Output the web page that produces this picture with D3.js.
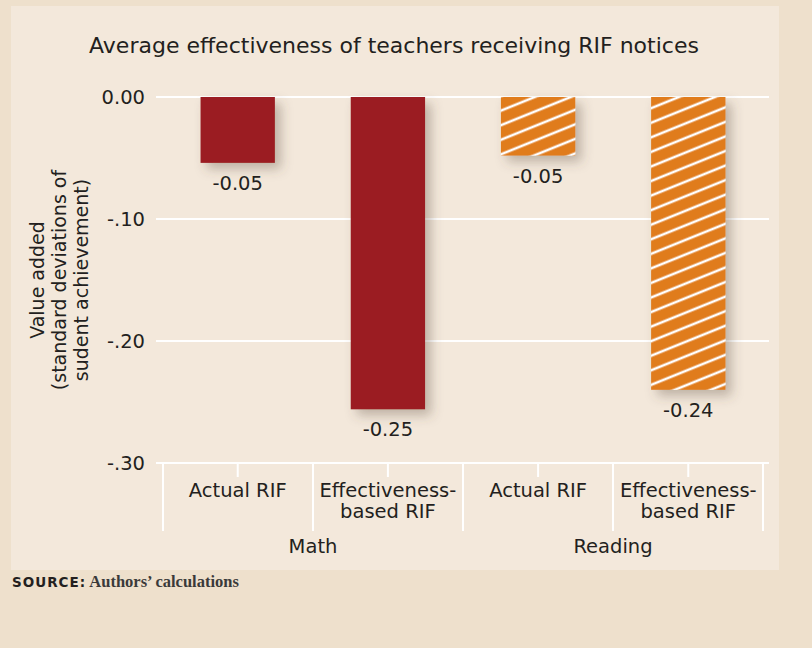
<!DOCTYPE html>
<html>
<head>
<meta charset="utf-8">
<script src="https://cdn.jsdelivr.net/npm/d3@7"></script>
<style>
  body { margin: 0; background: #eee0cc; }
  text { font-family: "DejaVu Sans", sans-serif; fill: #231f20; }
</style>
</head>
<body>
<script>
// chart data
var subjects = ["Math", "Reading"];
var rifTypes = ["Actual RIF", "Effectiveness-based RIF"];
var mathValues = [-0.054, -0.256];
var readingValues = [-0.048, -0.240];
var valueLabels = [["-0.05", "-0.25"], ["-0.05", "-0.24"]];
var yTicks = [0, -0.1, -0.2, -0.3];
var yTickLabels = ["0.00", "-.10", "-.20", "-.30"];

var bars = [];
subjects.forEach(function(s, i) {
  var vals = i === 0 ? mathValues : readingValues;
  rifTypes.forEach(function(r, j) {
    bars.push({ subject: s, type: r, value: vals[j], label: valueLabels[i][j], key: s + "|" + r });
  });
});

var width = 812, height = 648;
var svg = d3.select("body").append("svg")
    .attr("width", width)
    .attr("height", height);

var defs = svg.append("defs");

// soft shadow behind bars
var f = defs.append("filter").attr("id", "shadow")
    .attr("x", "-30%").attr("y", "-30%").attr("width", "180%").attr("height", "180%");
f.append("feDropShadow")
    .attr("dx", 6).attr("dy", 6).attr("stdDeviation", 6)
    .attr("flood-color", "#5a4a3a").attr("flood-opacity", 0.35);

// white diagonal hatching for reading bars
var pat = defs.append("pattern").attr("id", "hatch")
    .attr("patternUnits", "userSpaceOnUse")
    .attr("width", 13.5).attr("height", 13.5)
    .attr("patternTransform", "rotate(-22)");
pat.append("rect").attr("width", 13.5).attr("height", 13.5).attr("fill", "#e07b1e");
pat.append("line").attr("x1", 0).attr("x2", 13.5).attr("y1", 6.75).attr("y2", 6.75)
    .attr("stroke", "#fff").attr("stroke-width", 2.6);

// panel
svg.append("rect").attr("x", 11).attr("y", 6).attr("width", 768).attr("height", 564)
    .attr("fill", "#f3e8db");

// title
svg.append("text")
    .attr("x", 394).attr("y", 53)
    .attr("text-anchor", "middle")
    .style("font-size", "22px")
    .text("Average effectiveness of teachers receiving RIF notices");

// scales
var x = d3.scaleBand()
    .domain(bars.map(function(d) { return d.key; }))
    .range([163, 763])
    .paddingInner(0.505)
    .paddingOuter(0.25);

var y = d3.scaleLinear()
    .domain([0, -0.3])
    .range([97, 463]);

// gridlines
svg.append("g").selectAll("line")
    .data(yTicks)
  .enter().append("line")
    .attr("x1", 156).attr("x2", 769)
    .attr("y1", function(d) { return y(d); })
    .attr("y2", function(d) { return y(d); })
    .attr("stroke", "#fff")
    .attr("stroke-width", 2);

// y tick labels
svg.append("g").selectAll("text")
    .data(yTicks)
  .enter().append("text")
    .attr("x", 145)
    .attr("y", function(d) { return y(d); })
    .attr("dy", "0.35em")
    .attr("text-anchor", "end")
    .style("font-size", "19.5px")
    .text(function(d, i) { return yTickLabels[i]; });

// y axis title
var yl = svg.append("text")
    .attr("transform", "translate(44,280) rotate(-90)")
    .attr("text-anchor", "middle")
    .style("font-size", "19px");
["Value added", "(standard deviations of", "sudent achievement)"].forEach(function(t, i) {
  yl.append("tspan").attr("x", 0).attr("dy", i === 0 ? 0 : 22).text(t);
});

// bars
svg.append("g").selectAll("rect")
    .data(bars)
  .enter().append("rect")
    .attr("x", function(d) { return x(d.key); })
    .attr("y", y(0))
    .attr("width", x.bandwidth())
    .attr("height", function(d) { return y(d.value) - y(0); })
    .attr("fill", function(d) { return d.subject === "Math" ? "#9b1f24" : "url(#hatch)"; })
    .attr("filter", "url(#shadow)");

// value labels
svg.append("g").selectAll("text")
    .data(bars)
  .enter().append("text")
    .attr("x", function(d) { return x(d.key) + x.bandwidth() / 2; })
    .attr("y", function(d) { return y(d.value) + 27; })
    .attr("text-anchor", "middle")
    .style("font-size", "19.5px")
    .text(function(d) { return d.label; });

// x axis separators and ticks
var seps = d3.range(5).map(function(i) { return 163 + i * 150; });
svg.append("g").selectAll("line")
    .data(seps)
  .enter().append("line")
    .attr("x1", function(d) { return d; }).attr("x2", function(d) { return d; })
    .attr("y1", 463).attr("y2", 531)
    .attr("stroke", "#fff").attr("stroke-width", 2);
svg.append("g").selectAll("line")
    .data(bars)
  .enter().append("line")
    .attr("x1", function(d) { return x(d.key) + x.bandwidth() / 2; })
    .attr("x2", function(d) { return x(d.key) + x.bandwidth() / 2; })
    .attr("y1", 463).attr("y2", 477)
    .attr("stroke", "#fff").attr("stroke-width", 2);

// category labels
var cat = svg.append("g").selectAll("text")
    .data(bars)
  .enter().append("text")
    .attr("text-anchor", "middle")
    .attr("y", 497)
    .style("font-size", "19.5px");
cat.each(function(d) {
  var t = d3.select(this);
  var cx = x(d.key) + x.bandwidth() / 2;
  if (d.type === "Actual RIF") {
    t.append("tspan").attr("x", cx).text("Actual RIF");
  } else {
    t.append("tspan").attr("x", cx).text("Effectiveness-");
    t.append("tspan").attr("x", cx).attr("dy", 21).text("based RIF");
  }
});

// subject labels
svg.append("g").selectAll("text")
    .data(subjects)
  .enter().append("text")
    .attr("x", function(d, i) { return 163 + 150 + i * 300; })
    .attr("y", 553)
    .attr("text-anchor", "middle")
    .style("font-size", "19.5px")
    .text(function(d) { return d; });

// source
var src = svg.append("text").attr("x", 12).attr("y", 587);
src.append("tspan")
    .style("font-family", "'DejaVu Sans', sans-serif")
    .style("font-weight", "bold")
    .style("font-size", "13.5px")
    .style("letter-spacing", "1px")
    .text("SOURCE:");
src.append("tspan")
    .style("font-family", "'Liberation Serif', serif")
    .style("font-weight", "bold")
    .style("font-size", "16.5px")
    .style("fill", "#3a3a3a")
    .text(" Authors\u2019 calculations");
</script>
</body>
</html>
